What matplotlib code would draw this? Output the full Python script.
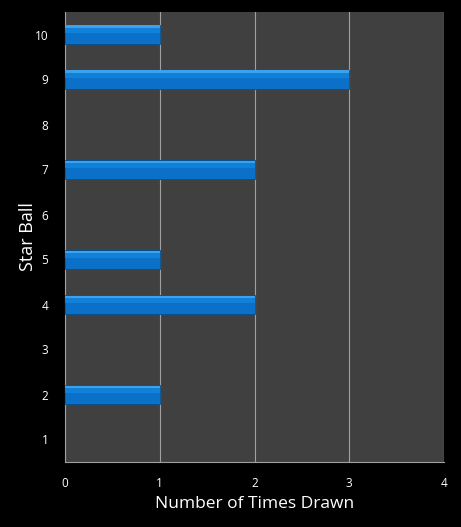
import matplotlib
matplotlib.use("Agg")
import matplotlib.pyplot as plt
import numpy as np

categories = ["1", "2", "3", "4", "5", "6", "7", "8", "9", "10"]
values = [0, 1, 0, 2, 1, 0, 2, 0, 3, 1]
xticks = [0, 1, 2, 3, 4]

plt.rcParams['font.family'] = ['Open Sans', 'DejaVu Sans']

fig = plt.figure(figsize=(4.61, 5.27), dpi=100, facecolor='black')
ax = fig.add_axes([65/461, 1-462/527, (444-65)/461, (462-12)/527])
ax.set_facecolor('#404040')

pos = np.arange(len(categories))
vals = np.array(values, dtype=float)
nz = vals > 0
h = 0.42
ax.barh(pos[nz], vals[nz], height=h, color='#0a70c8', edgecolor='#06508f', linewidth=0.6, zorder=3)
# top highlight strip
ax.barh(pos[nz] + h/2 - 0.04, vals[nz], height=0.06, color='#3aa2ee', linewidth=0, zorder=4)
# upper gradient band
ax.barh(pos[nz] + h/2 - 0.12, vals[nz], height=0.10, color='#1180d8', linewidth=0, zorder=4)

ax.set_xlim(0, 4)
ax.set_ylim(-0.5, len(categories) - 0.5)
ax.set_xticks(xticks)
ax.set_xticklabels([str(t) for t in xticks])
ax.set_yticks(pos)
ax.set_yticklabels(categories)
ax.grid(axis='x', color='#a0a0a0', linewidth=0.8, zorder=1)
ax.set_axisbelow(True)
for s in ['top', 'right']:
    ax.spines[s].set_visible(False)
for s in ['left', 'bottom']:
    ax.spines[s].set_color('#a0a0a0')
    ax.spines[s].set_linewidth(0.8)
ax.tick_params(axis='both', length=0, colors='white', labelsize=8.5)
ax.tick_params(axis='x', pad=11)
ax.tick_params(axis='y', pad=12)
ax.set_xlabel('Number of Times Drawn', color='white', fontsize=12.5, labelpad=4)
ax.set_ylabel('Star Ball', color='white', fontsize=13, labelpad=-2)

fig.savefig('out.png', dpi=100, facecolor='black')
